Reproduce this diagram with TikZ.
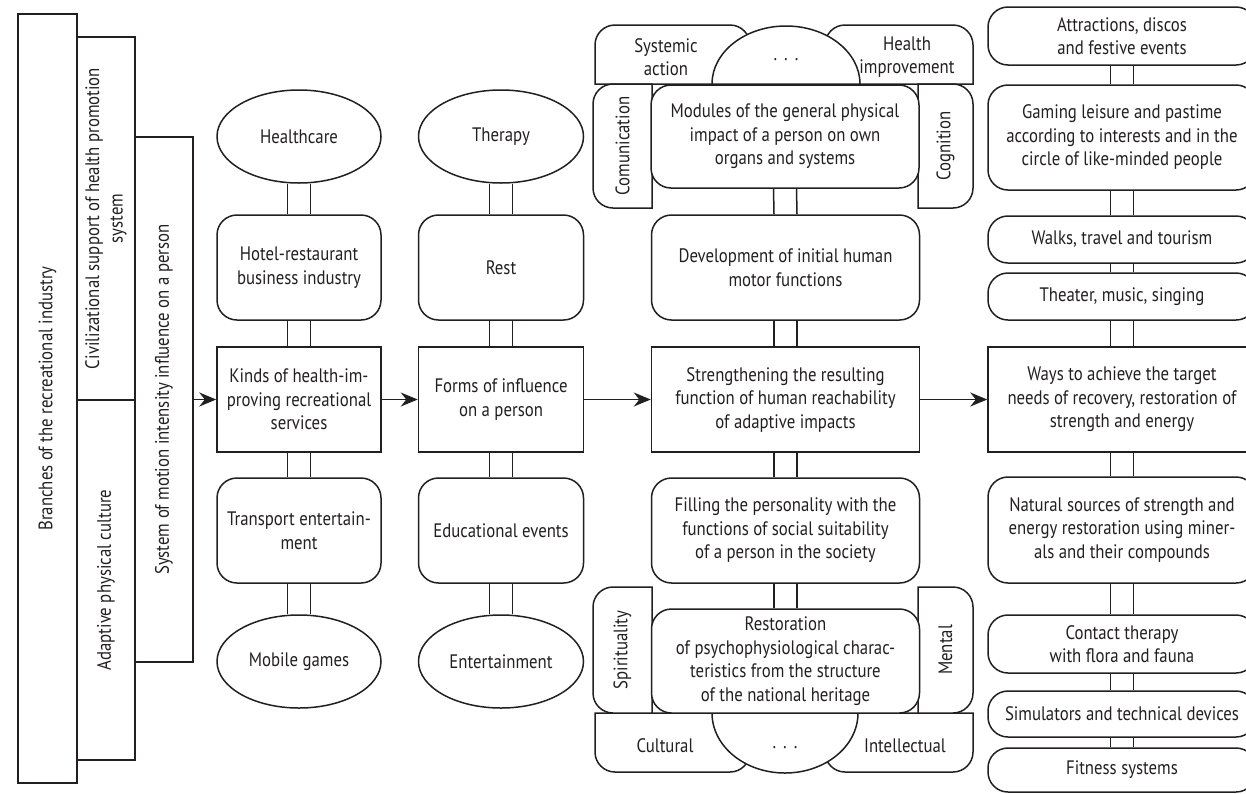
\documentclass[tikz,border=0pt]{standalone}
\usepackage{fontspec}
\setmainfont{PT Sans}[FakeStretch=0.86]
\usetikzlibrary{shapes.geometric,arrows.meta}
\definecolor{ink}{RGB}{35,31,32}
\newcommand\dlink[2]{%
  \draw ([xshift=-11.5pt]#1.south) -- ([xshift=-11.5pt]#2.north);
  \draw ([xshift=11.5pt]#1.south) -- ([xshift=11.5pt]#2.north);}
\newcommand\sdots{.\hspace{7pt}.\hspace{7pt}.}
\begin{document}
\begin{tikzpicture}[x=1pt,y=-1pt,line width=1.5pt,color=ink,
  font=\fontsize{19.5}{23.5}\selectfont,
  rbox/.style={draw,rounded corners=20pt,fill=white,align=center,inner sep=0pt},
  sbox/.style={draw,fill=white,align=center,inner sep=0pt},
  ell/.style={draw,ellipse,fill=white,align=center,inner sep=0pt},
  bar/.style={draw,inner sep=0pt},
  tab/.style={draw,fill=white},
  lbl/.style={align=center,inner sep=0pt},
  arr/.style={-{Stealth[length=17pt,width=14pt]}},
  c1/.style={minimum width=164pt},
  c2/.style={minimum width=165pt},
  c3/.style={minimum width=268pt},
  c4/.style={minimum width=268pt}]
\useasboundingbox (0,0) rectangle (1246,793);
\clip (0,0) rectangle (1246,793);

% left bars
\node[bar,minimum width=59pt,minimum height=769pt] (branches) at (47.5,398.5) {};
\node[lbl,rotate=90] (branchestxt) at (branches.center) {Branches of the recreational industry};
\node[bar,minimum width=58pt,minimum height=363pt] (civ) at (106,218.5) {};
\node[lbl,rotate=90] (civtxt) at (civ.center) {Civilizational support of health promotion\\system};
\node[bar,minimum width=58pt,minimum height=360pt] (adapt) at (106,580) {};
\node[lbl,rotate=90] (adapttxt) at (adapt.center) {Adaptive physical culture};
\node[bar,minimum width=58pt,minimum height=525pt] (sys) at (164,399.5) {};
\node[lbl,rotate=90] (systxt) at (sys.center) {System of motion intensity influence on a person};

% column 1
\node[ell,c1,minimum height=93pt] (health) at (299,136.5) {Healthcare};
\node[rbox,c1,minimum height=105pt] (hotel) at (299,267.5) {Hotel-restaurant\\business industry};
\node[sbox,c1,minimum height=105pt] (kinds) at (299,399.5) {Kinds of health-im-\\proving recreational\\services};
\node[rbox,c1,minimum height=105pt] (transport) at (299,530.5) {Transport entertain-\\ment};
\node[ell,c1,minimum height=93pt] (mobile) at (299,661.5) {Mobile games};

% column 2
\node[ell,c2,minimum height=93pt] (therapy) at (501,136.5) {Therapy};
\node[rbox,c2,minimum height=105pt] (rest) at (501,267.5) {Rest};
\node[sbox,c2,minimum height=105pt] (forms) at (501,399.5) {Forms of influence\\on a person};
\node[rbox,c2,minimum height=105pt] (edu) at (501,530.5) {Educational events};
\node[ell,c2,minimum height=93pt] (ent) at (501,661.5) {Entertainment};

% column 3 top cluster
\draw[tab] (595,84) -- (595,45) arc[start angle=180,end angle=90,radius=20pt] -- (730,25) arc[start angle=90,end angle=0,radius=20pt] -- (750,84) -- cycle;
\draw[tab] (825,84) -- (825,45) arc[start angle=180,end angle=90,radius=20pt] -- (953,25) arc[start angle=90,end angle=0,radius=20pt] -- (973,84) -- cycle;
\draw[tab] (712,84) arc[start angle=180,end angle=0,x radius=74pt,y radius=58pt] -- cycle;
\draw[tab] (652,84) -- (613,84) arc[start angle=90,end angle=180,radius=20pt] -- (593,188) arc[start angle=180,end angle=270,radius=20pt] -- (652,208) -- cycle;
\draw[tab] (918,84) -- (953,84) arc[start angle=90,end angle=0,radius=20pt] -- (973,188) arc[start angle=0,end angle=-90,radius=20pt] -- (918,208) -- cycle;
\node[lbl] (systemic) at (666,57) {Systemic\\action};
\node[lbl] (topdots) at (786,60) {\sdots};
\node[lbl] (healthimp) at (907,57) {Health\\improvement};
\node[lbl,rotate=90] (comm) at (622.5,146) {Comunication};
\node[lbl,rotate=90] (cogn) at (945.5,146) {Cognition};
\node[rbox,c3,minimum height=103pt] (modules) at (785,136.5) {Modules of the general physical\\impact of a person on own\\organs and systems};

% column 3
\node[rbox,c3,minimum height=105pt] (devel) at (785.5,267.5) {Development of initial human\\motor functions};
\node[sbox,c3,minimum height=105pt] (streng) at (785.5,399.5) {Strengthening the resulting\\function of human reachability\\of adaptive impacts};
\node[rbox,c3,minimum height=105pt] (filling) at (785.5,530.5) {Filling the personality with the\\functions of social suitability\\of a person in the society};

% column 3 bottom cluster
\draw[tab] (595,713) -- (595,752) arc[start angle=180,end angle=270,radius=20pt] -- (730,772) arc[start angle=270,end angle=360,radius=20pt] -- (750,713) -- cycle;
\draw[tab] (825,713) -- (825,752) arc[start angle=180,end angle=270,radius=20pt] -- (953,772) arc[start angle=270,end angle=360,radius=20pt] -- (973,713) -- cycle;
\draw[tab] (712,713) arc[start angle=180,end angle=360,x radius=73pt,y radius=60pt] -- cycle;
\draw[tab] (652,587) -- (613,587) arc[start angle=90,end angle=180,radius=20pt] -- (593,693) arc[start angle=180,end angle=270,radius=20pt] -- (652,713) -- cycle;
\draw[tab] (918,587) -- (953,587) arc[start angle=90,end angle=0,radius=20pt] -- (973,693) arc[start angle=0,end angle=-90,radius=20pt] -- (918,713) -- cycle;
\node[lbl,rotate=90] (spirit) at (622.5,650) {Spirituality};
\node[lbl,rotate=90] (mental) at (945.5,650) {Mental};
\node[lbl] (cultural) at (665,746) {Cultural};
\node[lbl] (botdots) at (785,748) {\sdots};
\node[lbl] (intel) at (905,746) {Intellectual};
\node[rbox,c3,minimum height=104pt] (restor) at (785.5,661) {Restoration\\of psychophysiological charac-\\teristics from the structure\\of the national heritage};

% column 4
\node[rbox,c4,minimum height=58pt] (attr) at (1122,36) {Attractions, discos\\and festive events};
\node[rbox,c4,minimum height=105pt] (gaming) at (1122,137.5) {Gaming leisure and pastime\\according to interests and in the\\circle of like-minded people};
\node[rbox,c4,minimum height=47pt] (walks) at (1122,239.5) {Walks, travel and tourism};
\node[rbox,c4,minimum height=47pt] (theater) at (1122,296.5) {Theater, music, singing};
\node[sbox,c4,minimum height=105pt] (ways) at (1122,399.5) {Ways to achieve the target\\needs of recovery, restoration of\\strength and energy};
\node[rbox,c4,minimum height=106pt] (natural) at (1122,530) {Natural sources of strength and\\energy restoration using miner-\\als and their compounds};
\node[rbox,c4,minimum height=58pt] (contact) at (1122,644) {Contact therapy\\with flora and fauna};
\node[rbox,c4,minimum height=46pt] (simul) at (1122,714) {Simulators and technical devices};
\node[rbox,c4,minimum height=44pt] (fitness) at (1122,770) {Fitness systems};

% double connectors
\dlink{health}{hotel}\dlink{hotel}{kinds}\dlink{kinds}{transport}\dlink{transport}{mobile}
\dlink{therapy}{rest}\dlink{rest}{forms}\dlink{forms}{edu}\dlink{edu}{ent}
\dlink{modules}{devel}\dlink{devel}{streng}\dlink{streng}{filling}\dlink{filling}{restor}
\dlink{attr}{gaming}\dlink{gaming}{walks}\dlink{walks}{theater}\dlink{theater}{ways}
\dlink{ways}{natural}\dlink{natural}{contact}\dlink{contact}{simul}\dlink{simul}{fitness}

% arrows
\draw[arr] (sys.east) -- (kinds.west);
\draw[arr] (kinds.east) -- (forms.west);
\draw[arr] (forms.east) -- (streng.west);
\draw[arr] (streng.east) -- (ways.west);
\end{tikzpicture}
\end{document}
